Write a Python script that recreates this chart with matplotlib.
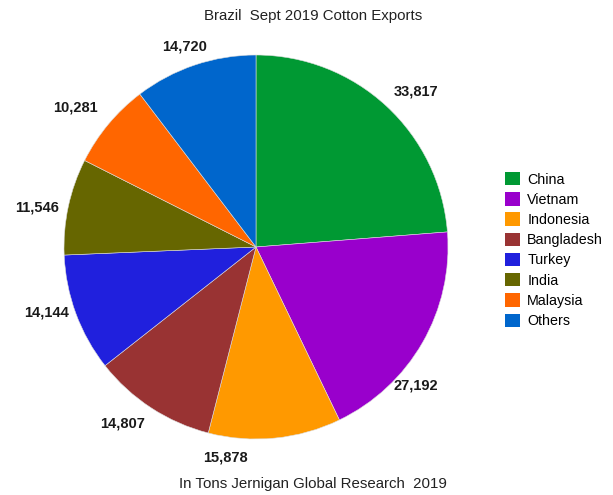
import numpy as np
import matplotlib
matplotlib.use("Agg")
import matplotlib.pyplot as plt
from matplotlib.patches import Patch

plt.rcParams['font.family'] = ['Liberation Sans', 'DejaVu Sans']

countries = ["China", "Vietnam", "Indonesia", "Bangladesh", "Turkey", "India", "Malaysia", "Others"]
tons = [33817, 27192, 15878, 14807, 14144, 11546, 10281, 14720]
colors = ["#009933", "#9900cc", "#ff9900", "#993333", "#2020dd", "#666600", "#ff6600", "#0066cc"]
# angular nudge (degrees, clockwise) and radial distance for each value label
label_shift = [3, 11, 14, 4, 3, -2, -2, -1]
label_dist = [1.16, 1.10, 1.11, 1.15, 1.14, 1.16, 1.19, 1.11]

W, H = 613, 495
fig = plt.figure(figsize=(W / 100, H / 100), dpi=100)

cx, cy, r = 256, 247, 192
ax = fig.add_axes([(cx - r) / W, (H - cy - r) / H, 2 * r / W, 2 * r / H])
wedges, _ = ax.pie(
    tons, colors=colors, startangle=90, counterclock=False,
    wedgeprops=dict(linewidth=0.4, edgecolor="#dddddd"),
)
for w, v, shift, d in zip(wedges, tons, label_shift, label_dist):
    mid = np.deg2rad((w.theta1 + w.theta2) / 2 - shift)
    ax.text(d * np.cos(mid), d * np.sin(mid), f"{v:,}", ha="center", va="center",
            fontsize=10.5, fontweight="bold", color="#1a1a1a")
ax.set_aspect("equal")
ax.set_xlim(-1, 1)
ax.set_ylim(-1, 1)

fig.text(313 / W, 1 - 16 / H, "Brazil  Sept 2019 Cotton Exports", ha="center", va="center",
         fontsize=10.8, color="#222222")
fig.text(313 / W, 1 - 484 / H, "In Tons Jernigan Global Research  2019", ha="center", va="center",
         fontsize=10.8, color="#222222")

handles = [Patch(facecolor=c, edgecolor="none") for c in colors]
fig.legend(handles, countries, loc="upper left", bbox_to_anchor=(505 / W, 1 - 172 / H),
           frameon=False, fontsize=10.3, handlelength=1.05, handleheight=1.05,
           handletextpad=0.5, labelspacing=0.4, borderaxespad=0, borderpad=0)

fig.savefig("out.png", dpi=100, facecolor="white")
